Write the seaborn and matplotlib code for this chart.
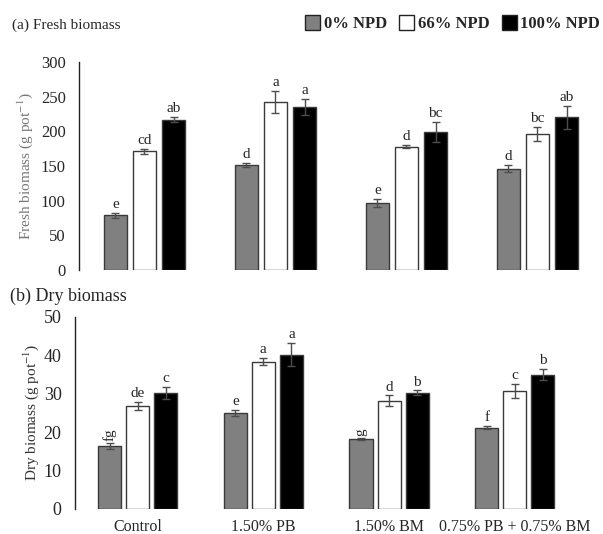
import pandas as pd
import matplotlib.pyplot as plt
import seaborn as sns
from matplotlib.patches import Patch

# data
treatments = ['Control', '1.50% PB', '1.50% BM', '0.75% PB + 0.75% BM']
npd_levels = ['0% NPD', '66% NPD', '100% NPD']

fresh_0 = [79, 151, 97, 146]
fresh_66 = [171, 242, 178, 196]
fresh_100 = [217, 235, 199, 220]
fresh_err_0 = [4, 3, 6, 5]
fresh_err_66 = [4, 16, 2, 10]
fresh_err_100 = [4, 11, 14, 17]
fresh_letters_0 = ['e', 'd', 'e', 'd']
fresh_letters_66 = ['cd', 'a', 'd', 'bc']
fresh_letters_100 = ['ab', 'a', 'bc', 'ab']

dry_0 = [16.4, 25.0, 18.2, 21.1]
dry_66 = [26.8, 38.3, 28.1, 30.7]
dry_100 = [30.2, 40.1, 30.2, 34.9]
dry_err_0 = [0.8, 0.8, 0.3, 0.4]
dry_err_66 = [1.0, 1.0, 1.4, 1.8]
dry_err_100 = [1.5, 3.0, 0.6, 1.5]
dry_letters_0 = ['fg', 'e', 'g', 'f']
dry_letters_66 = ['de', 'a', 'd', 'c']
dry_letters_100 = ['c', 'a', 'b', 'b']

bar_colors = ['#808080', '#ffffff', '#000000']

sns.set_style('white')
plt.rcParams['font.family'] = ['Liberation Serif', 'DejaVu Serif']
plt.rcParams['mathtext.fontset'] = 'stix'


def long_df(v0, v66, v100):
    rows = []
    for lvl, vals in zip(npd_levels, [v0, v66, v100]):
        for t, v in zip(treatments, vals):
            rows.append({'Treatment': t, 'NPD': lvl, 'Value': v})
    return pd.DataFrame(rows)


def draw_panel(ax, df, errs, letters, ymax, step, pad, ylabel, ycolor,
               width, gap, ysize, lpad):
    sns.barplot(data=df, x='Treatment', y='Value', hue='NPD', order=treatments,
                hue_order=npd_levels, palette=bar_colors, errorbar=None,
                width=width, gap=gap, edgecolor='#3a3a3a', linewidth=1.0,
                legend=False, ax=ax)
    for cont, err, lab in zip(ax.containers, errs, letters):
        for bar, e, l in zip(cont, err, lab):
            x = bar.get_x() + bar.get_width() / 2
            h = bar.get_height()
            ax.errorbar(x, h, yerr=e, color='#4d4d4d', capsize=3, elinewidth=1,
                        capthick=1)
            # the two 'g' letters are turned sideways in the original
            rot = 90 if 'g' in l else 0
            ax.text(x, h + e + pad, l, ha='center', va='bottom', fontsize=11,
                    rotation=rot)
    ax.set_ylim(0, ymax)
    ax.set_yticks(range(0, ymax + 1, step))
    ax.set_xlim(-0.5, 3.5)
    ax.set_xlabel('')
    ax.set_ylabel(ylabel, fontsize=11, color=ycolor, labelpad=lpad)
    ax.tick_params(axis='both', length=0, pad=9.5)
    ax.tick_params(axis='y', labelsize=ysize)
    for s in ['top', 'right', 'bottom']:
        ax.spines[s].set_visible(False)
    ax.spines['left'].set_color('#222222')
    ax.spines['left'].set_linewidth(1)


fig = plt.figure(figsize=(6.03, 5.34), dpi=100)
ax1 = fig.add_axes([0.131, 0.494, 0.869, 0.390])
ax2 = fig.add_axes([0.124, 0.047, 0.834, 0.360])

draw_panel(ax1, long_df(fresh_0, fresh_66, fresh_100),
           [fresh_err_0, fresh_err_66, fresh_err_100],
           [fresh_letters_0, fresh_letters_66, fresh_letters_100],
           300, 50, 3, 'Fresh biomass (g pot$^{-1}$)', '#777777', 0.665, 0.2,
           12, 4)
ax1.set_xticklabels([])

draw_panel(ax2, long_df(dry_0, dry_66, dry_100),
           [dry_err_0, dry_err_66, dry_err_100],
           [dry_letters_0, dry_letters_66, dry_letters_100],
           50, 10, 0.5, 'Dry biomass (g pot$^{-1}$)', '#333333', 0.67, 0.18,
           13, 2)
ax2.tick_params(axis='x', pad=7, labelsize=11.5)

fig.text(0.02, 0.953, '(a) Fresh biomass', fontsize=11, va='center')
fig.text(0.016, 0.445, '(b) Dry biomass', fontsize=13, va='center')

handles = [Patch(facecolor=c, edgecolor='#222222', linewidth=1) for c in bar_colors]
leg = fig.legend(handles, npd_levels, loc='upper right', bbox_to_anchor=(1.02, 1.0),
                 ncol=3, frameon=False, handlelength=0.9, handleheight=1.0,
                 handletextpad=0.2, columnspacing=0.75,
                 prop={'weight': 'bold', 'size': 12})

fig.savefig('out.png', dpi=100)
